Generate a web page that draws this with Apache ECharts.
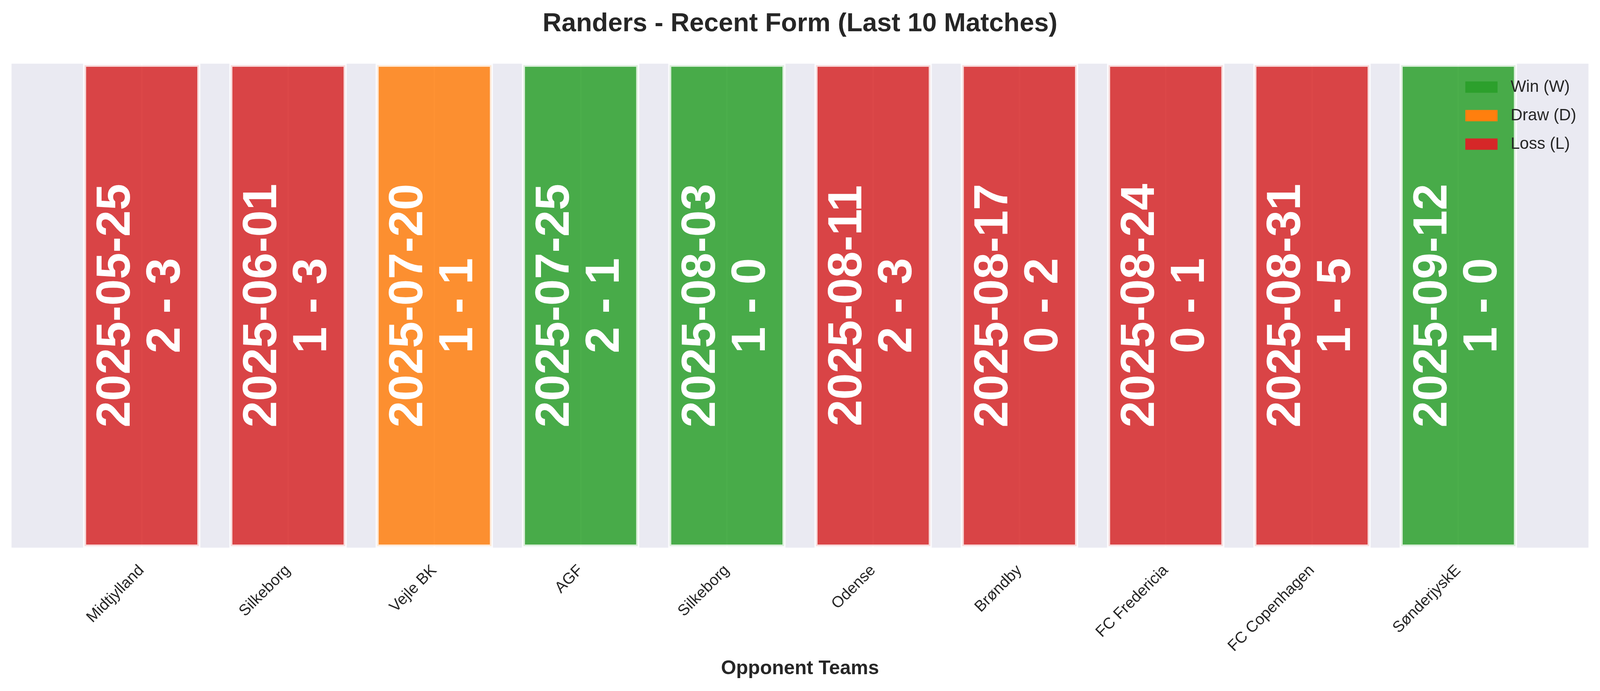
<!DOCTYPE html>
<html>
<head>
<meta charset="utf-8">
<script src="https://cdn.jsdelivr.net/npm/echarts@6/dist/echarts.min.js"></script>
<style>
html,body{margin:0;padding:0;background:#fff;overflow:hidden;}
#chart{width:100vw;height:100vh;}
</style>
</head>
<body>
<div id="chart"></div>
<script>
const teams = ['Midtjylland','Silkeborg','Vejle BK','AGF','Silkeborg','Odense','Brøndby','FC Fredericia','FC Copenhagen','SønderjyskE'];
const dates = ['2025-05-25','2025-06-01','2025-07-20','2025-07-25','2025-08-03','2025-08-11','2025-08-17','2025-08-24','2025-08-31','2025-09-12'];
const scores = ['2 - 3','1 - 3','1 - 1','2 - 1','1 - 0','2 - 3','0 - 2','0 - 1','1 - 5','1 - 0'];
const results = ['L','L','D','W','W','L','L','L','L','W'];
const barHeights = [1,1,1,1,1,1,1,1,1,1];
const resultNames = {W:'Win (W)', D:'Draw (D)', L:'Loss (L)'};
const resultColors = {W:'#2ca02c', D:'#ff7f0e', L:'#d62728'};
const resultFill = {W:'rgba(44,160,44,0.85)', D:'rgba(255,127,14,0.85)', L:'rgba(214,39,40,0.85)'};
const tickValues = teams.map((t,i)=>i);

const el = document.getElementById('chart');
const W = el.clientWidth || window.innerWidth;
const H = el.clientHeight || window.innerHeight;
const sx = W / 4170;
const sy = H / 1769;

const FONT = '"Liberation Sans", Arial, sans-serif';
const chart = echarts.init(el, null, {renderer:'canvas'});

const barSeries = ['W','D','L'].map(r => ({
  name: resultNames[r],
  type: 'bar',
  barWidth: 306 * sx,
  barGap: '-100%',
  z: 3,
  clip: true,
  itemStyle: {color: resultFill[r], borderColor: 'rgba(255,255,255,0.8)', borderWidth: 8},
  emphasis: {disabled: true},
  label: {
    show: true,
    position: 'inside',
    rotate: 90,
    color: '#ffffff',
    fontFamily: FONT,
    fontWeight: 'bold',
    fontSize: 122,
    lineHeight: 128,
    formatter: p => dates[p.value[0]] + '\n' + scores[p.value[0]]
  },
  data: results.map((res,i)=> res===r ? [i, barHeights[i]] : null).filter(d=>d)
}));

const gridLineSeries = {
  type: 'line',
  data: [],
  z: 1,
  silent: true,
  markLine: {
    z: 1,
    silent: true,
    symbol: ['none','none'],
    label: {show:false},
    lineStyle: {color:'#ffffff', width:4, type:'solid'},
    data: tickValues.map(v => ({xAxis: v}))
  }
};

chart.setOption({
  animation: false,
  backgroundColor: '#ffffff',
  title: {
    text: 'Randers - Recent Form (Last 10 Matches)',
    left: 'center',
    top: 23 * sy,
    textStyle: {fontFamily: FONT, fontWeight: 'bold', fontSize: 67, lineHeight: 67, color: '#262626'}
  },
  legend: {
    orient: 'vertical',
    left: 3819 * sx,
    top: 202 * sy,
    padding: 0,
    itemWidth: 84 * sx,
    itemHeight: 29,
    itemGap: 31,
    icon: 'rect',
    itemStyle: {borderWidth: 0},
    textStyle: {fontFamily: FONT, fontSize: 42, lineHeight: 29, color: '#262626', padding: [0,0,0,29 * sx]},
    data: ['W','D','L'].map(r => ({name: resultNames[r], itemStyle: {color: resultColors[r], opacity: 1, borderWidth: 0}}))
  },
  grid: {
    left: 30 * sx, right: 30 * sx, top: 163 * sy, bottom: 367 * sy,
    show: true, backgroundColor: '#EAEAF2', borderWidth: 0
  },
  xAxis: {
    type: 'value',
    min: -0.89,
    max: 9.89,
    name: 'Opponent Teams',
    nameLocation: 'middle',
    nameGap: 285 * sy,
    nameTextStyle: {fontFamily: FONT, fontWeight: 'bold', fontSize: 50, lineHeight: 50, color: '#262626'},
    axisLine: {show: false},
    axisTick: {show: false, customValues: tickValues},
    splitLine: {show: false},
    axisLabel: {
      customValues: tickValues,
      rotate: 45,
      margin: 52,
      fontFamily: FONT,
      fontSize: 40,
      color: '#262626',
      formatter: v => teams[Math.round(v)] || ''
    }
  },
  yAxis: {
    type: 'value', min: 0, max: 1, show: false,
    splitLine: {show: false}
  },
  series: [gridLineSeries].concat(barSeries)
});
</script>
</body>
</html>
